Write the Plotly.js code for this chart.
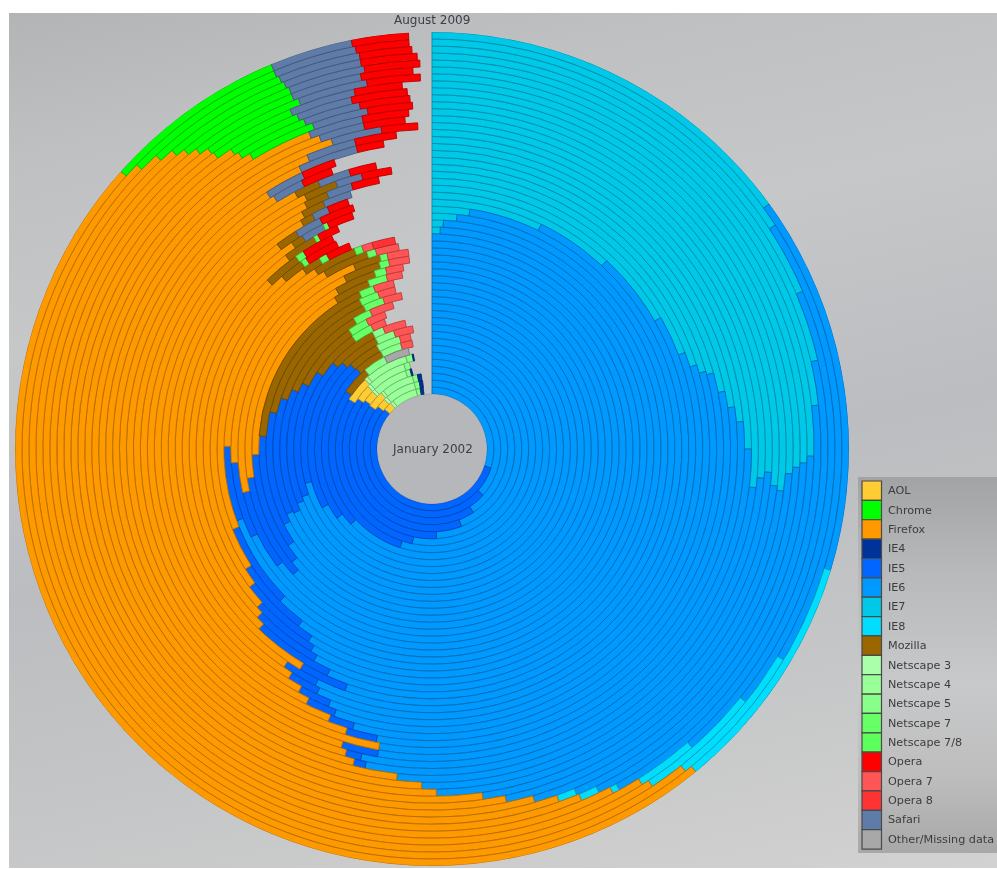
<!DOCTYPE html>
<html><head><meta charset="utf-8">
<script src="https://cdn.plot.ly/plotly-3.0.1.min.js"></script>
<style>
html,body{margin:0;padding:0;background:#fff;overflow:hidden}
#bg{position:absolute;left:9px;top:13px;width:988px;height:855px;
background:linear-gradient(168deg,#b2b4b6 0%,#bfc0c2 14%,#c6c7c9 32%,#bcbdc0 55%,#c4c5c6 75%,#d2d2d2 100%)}
#panel{position:absolute;left:858px;top:477px;width:139px;height:376px;
background:linear-gradient(180deg,#a2a3a5 0%,#b8b9bb 25%,#c8c9ca 55%,#bdbdbe 80%,#a8a8a9 100%)}
#chart{position:absolute;left:0;top:0;width:997px;height:869px;filter:blur(0.7px)}
</style></head><body>
<div id="bg"></div><div id="panel"></div><div id="chart"></div>
<script>
// Browser share in percent; one value per ring, innermost (January 2002) to outermost (August 2009)
const IE7=[0,0,0,0,0,0,0,0,0,0,0,0,0,0,0,0,0,0,0,0,0,0,0,0.6,0.8,1.7,2.5,7.2,11.9,16.7,19.2,20.1,20.6,20.8,21.9,22.8,23.6,25,26.9,26.4,26.1,26.7,26.9,26.1,25.8,25.6,25.3,23.2,21.4,18.6,15.8,15];
const IE6=[30,36.7,40.8,44.2,49.2,53.3,55,63.1,65,67.2,70.8,69.4,68.9,68.1,68.3,67.5,65.6,64.2,63.3,64.7,67.8,69.4,62.5,59.7,58.3,56.9,55.6,49.7,43.6,40.6,37.8,36,35,33.6,31.1,30,29.2,28.6,26.4,25.3,24.4,23.1,20.8,20.6,19.7,18.1,17.5,18.8,17.2,17.2,17.8,14.7];
const IE8=[0,0,0,0,0,0,0,0,0,0,0,0,0,0,0,0,0,0,0,0,0,0,0,0,0,0,0,0,0,0,0,0,0,0,0,0,0,0,0,0,0,0,0,0,0,0.8,0.8,0.3,2.5,5,5.8,9.4];
const IE5=[56.1,48.9,43.9,40.8,35.3,30.3,29.4,24.9,22.8,20,15.6,15,13.6,13.3,11.9,11.1,10.6,10.3,9.2,6.7,6.1,5.8,6.4,5.6,5.6,4.7,4.7,5.3,3.1,2.2,1.9,1.9,1.7,1.4,1.7,0,1.9,0.8,0.6,0,0,0,0,0,0,0,0,0,0,0,0,0];
const AOL=[2.2,2.2,3.6,2.2,2.8,4.2,0,0,0,0,0,0,0,0,0,0,0,0,0,0,0,0,0,0,0,0,0,0,0,0,0,0,0,0,0,0,0,0,0,0,0,0,0,0,0,0,0,0,0,0,0,0];
const Firefox=[0,0,0,0,0,0,0,0,0,0,0,0,0,0,0,0,0,16.4,18.9,21.1,19.7,16.1,21.9,24.2,23.9,24.4,26.9,28.3,31.1,32.2,33.1,34.4,35.3,36.4,36.4,38.1,38.3,39.2,41.1,42.8,43.6,41.4,43.1,43.9,44.4,45.3,45.8,46.7,47.5,47.2,47.8,47.5];
const Chrome=[0,0,0,0,0,0,0,0,0,0,0,0,0,0,0,0,0,0,0,0,0,0,0,0,0,0,0,0,0,0,0,0,0,0,0,0,0,0,0,0,0,3.2,3.3,3.3,3.8,4.4,4.6,5,5.3,5.8,6.5,7.1];
const Mozilla=[0,0,0,0,0,0,4.4,4.3,4.4,5.3,6.1,5.8,7.8,10,12.7,14.2,16.9,3.3,3.6,3.1,2.2,3.6,3.3,1.4,1.7,2.5,2.2,0.8,1.4,0.8,1.4,1.4,1.9,1.4,0,0,0,0,0,0,0,0,0,0,0,0,0,0,0,0,0,0];
const Safari=[0,0,0,0,0,0,0,0,0,0,0,0,0,0,0,0,0,0,0,0,0,0,0,0,0,0,0,1.5,1.7,1,1.7,1.5,1.5,1.8,1.7,2.1,3.1,2.5,2.5,2.2,2.6,2.6,2.6,2.5,2.9,3,3,3.2,3.2,3.3,3.3,3.2];
const Netscape3=[0.8,0.8,0.6,0.6,0.6,0.6,0,0,0,0,0,0,0,0,0,0,0,0,0,0,0,0,0,0,0,0,0,0,0,0,0,0,0,0,0,0,0,0,0,0,0,0,0,0,0,0,0,0,0,0,0,0];
const Netscape4=[6.7,7.2,6.9,7,7,7.2,0,0,0,0,0,0,0,0,0,0,0,0,0,0,0,0,0,0,0,0,0,0,0,0,0,0,0,0,0,0,0,0,0,0,0,0,0,0,0,0,0,0,0,0,0,0];
const Netscape5=[1.1,1.2,1.1,0.9,1,1.1,3.6,3.1,3.3,2.5,1.4,0,0,0,0,0,0,0,0,0,0,0,0,0,0,0,0,0,0,0,0,0,0,0,0,0,0,0,0,0,0,0,0,0,0,0,0,0,0,0,0,0];
const Netscape7=[0,0,0,0,0,0,0,0,0,0,0,2.5,2.2,1.9,2.1,1.9,1.4,1.7,1,0.8,0.6,0.7,0,0,0,0,0,0,0,0,0,0,0,0,0,0,0,0,0,0,0,0,0,0,0,0,0,0,0,0,0,0];
const Netscape78=[0,0,0,0,0,0,0,0,0,0,0,0,0,0,0,0,0,0,0,0,0,0,0.6,0.6,0.4,0.6,0.3,0.3,0,0,0,0,0,0,0,0,0,0,0,0,0,0,0,0,0,0,0,0,0,0,0,0];
const Opera=[0,0,0,0,0,0,0,0,0,0,0,0,0,0,0,0,0,0,0,0,0,0,0,1.8,2.4,2.2,1.4,1.7,2.2,1.3,0,1.6,1.7,1.5,1.7,1.8,1.4,2.1,1.8,2,2.2,2.1,2.3,2.5,2.1,2.3,2.2,2.3,2.3,2.1,2.1,2.2];
const Opera7=[0,0,0,0,0,0,0,1.7,1.5,2.5,2.8,1.7,2.2,2.5,1.9,1.7,1.9,1.4,1.5,1.7,1.7,1.8,0.8,0,0,0,0,0,0,0,0,0,0,0,0,0,0,0,0,0,0,0,0,0,0,0,0,0,0,0,0,0];
const Opera8=[0,0,0,0,0,0,0,0,0,0,0,0,0,0,0,0,0,0,0,0,0,0,1.7,0,0,0,0,0,0,0,0,0,0,0,0,0,0,0,0,0,0,0,0,0,0,0,0,0,0,0,0,0];
const IE4=[0.8,0.8,0.8,0.3,0,0.2,0,0,0,0,0,0,0,0,0,0,0,0,0,0,0,0,0,0,0,0,0,0,0,0,0,0,0,0,0,0,0,0,0,0,0,0,0,0,0,0,0,0,0,0,0,0];
const Other=[0,0,0,0,0,0,3.9,0,0,0,0,0,0,0,0,0,0,0,0,0,0,0,0,0,0,0,0,0,0,0,0,0,0,0,0,0,0,0,0,0,0,0,0,0,0,0,0,0,0,0,0,0];

const firstLabel="January 2002", lastLabel="August 2009";
const legendNames=["AOL","Chrome","Firefox","IE4","IE5","IE6","IE7","IE8","Mozilla","Netscape 3","Netscape 4","Netscape 5","Netscape 7","Netscape 7/8","Opera","Opera 7","Opera 8","Safari","Other/Missing data"];
const legendColors=["#ffcc33","#00ff00","#ff9900","#003399","#0066ff","#0099ff","#00c8e8","#00ddff","#996600","#aaffaa","#99ff99","#88ff88","#66ff66","#5cff5c","#ff0000","#ff5555","#ff3333","#5f7ca8","#a8a8a8"];
const stack=[["IE7",IE7],["IE6",IE6],["IE8",IE8],["IE5",IE5],["AOL",AOL],["Firefox",Firefox],["Chrome",Chrome],["Mozilla",Mozilla],["Safari",Safari],["Netscape 3",Netscape3],["Netscape 4",Netscape4],["Netscape 5",Netscape5],["Netscape 7",Netscape7],["Netscape 7/8",Netscape78],["Opera",Opera],["Opera 7",Opera7],["Opera 8",Opera8],["IE4",IE4],["Other/Missing data",Other]];

function shade(hex,f){const n=parseInt(hex.slice(1),16);return `rgb(${((n>>16)&255)*f|0},${((n>>8)&255)*f|0},${(n&255)*f|0})`;}
const rings=IE6.length, running=new Array(rings).fill(0), traces=[];
stack.forEach(([name,vals])=>{
  const r=[],base=[],theta=[],width=[];
  vals.forEach((v,i)=>{
    if(v>0){const w=v*3.6;r.push(1);base.push(i);theta.push(running[i]+w/2);width.push(w);running[i]+=w;}
  });
  const c=legendColors[legendNames.indexOf(name)];
  traces.push({type:"barpolar",name,r,base,theta,width,showlegend:false,hoverinfo:"name",
    marker:{color:c,line:{color:shade(c,0.72),width:0.9}}});
});

const W=997,H=869,cx=432,cy=449,R=417;
const px=x=>x/W, py=y=>1-y/H;
const shapes=[{type:"circle",xref:"paper",yref:"paper",layer:"below",
  x0:px(cx-55),x1:px(cx+55),y0:py(cy+55),y1:py(cy-55),fillcolor:"#b6b7ba",line:{color:"#a9aaad",width:1}}];
const annotations=[
 {text:firstLabel,xref:"paper",yref:"paper",x:px(cx),y:py(cy),xanchor:"center",yanchor:"middle",showarrow:false,font:{family:"DejaVu Sans",size:12,color:"#3a4048"}},
 {text:lastLabel,xref:"paper",yref:"paper",x:px(432),y:py(19.5),xanchor:"center",yanchor:"middle",showarrow:false,font:{family:"DejaVu Sans",size:12,color:"#3a4048"}}];
legendNames.forEach((n,i)=>{
  const t=481+i*19.37;
  shapes.push({type:"rect",xref:"paper",yref:"paper",x0:px(862),x1:px(881.5),y0:py(t+19.37),y1:py(t),fillcolor:legendColors[i],line:{color:"#4a4a4a",width:1.2}});
  annotations.push({text:n,xref:"paper",yref:"paper",x:px(885.5),y:py(t+9.7),xanchor:"left",yanchor:"middle",showarrow:false,font:{family:"DejaVu Sans",size:11.2,color:"#3c3c3c"}});
});

Plotly.newPlot("chart",traces,{
  width:W,height:H,margin:{l:0,r:0,t:0,b:0},paper_bgcolor:"rgba(0,0,0,0)",showlegend:false,
  polar:{domain:{x:[px(cx-R),px(cx+R)],y:[py(cy+R),py(cy-R)]},bgcolor:"rgba(0,0,0,0)",barmode:"overlay",hole:55/417,
    radialaxis:{visible:false,range:[0,rings]},
    angularaxis:{visible:false,direction:"clockwise",rotation:90,thetaunit:"degrees"}},
  shapes,annotations
},{staticPlot:true,displayModeBar:false});
</script></body></html>
